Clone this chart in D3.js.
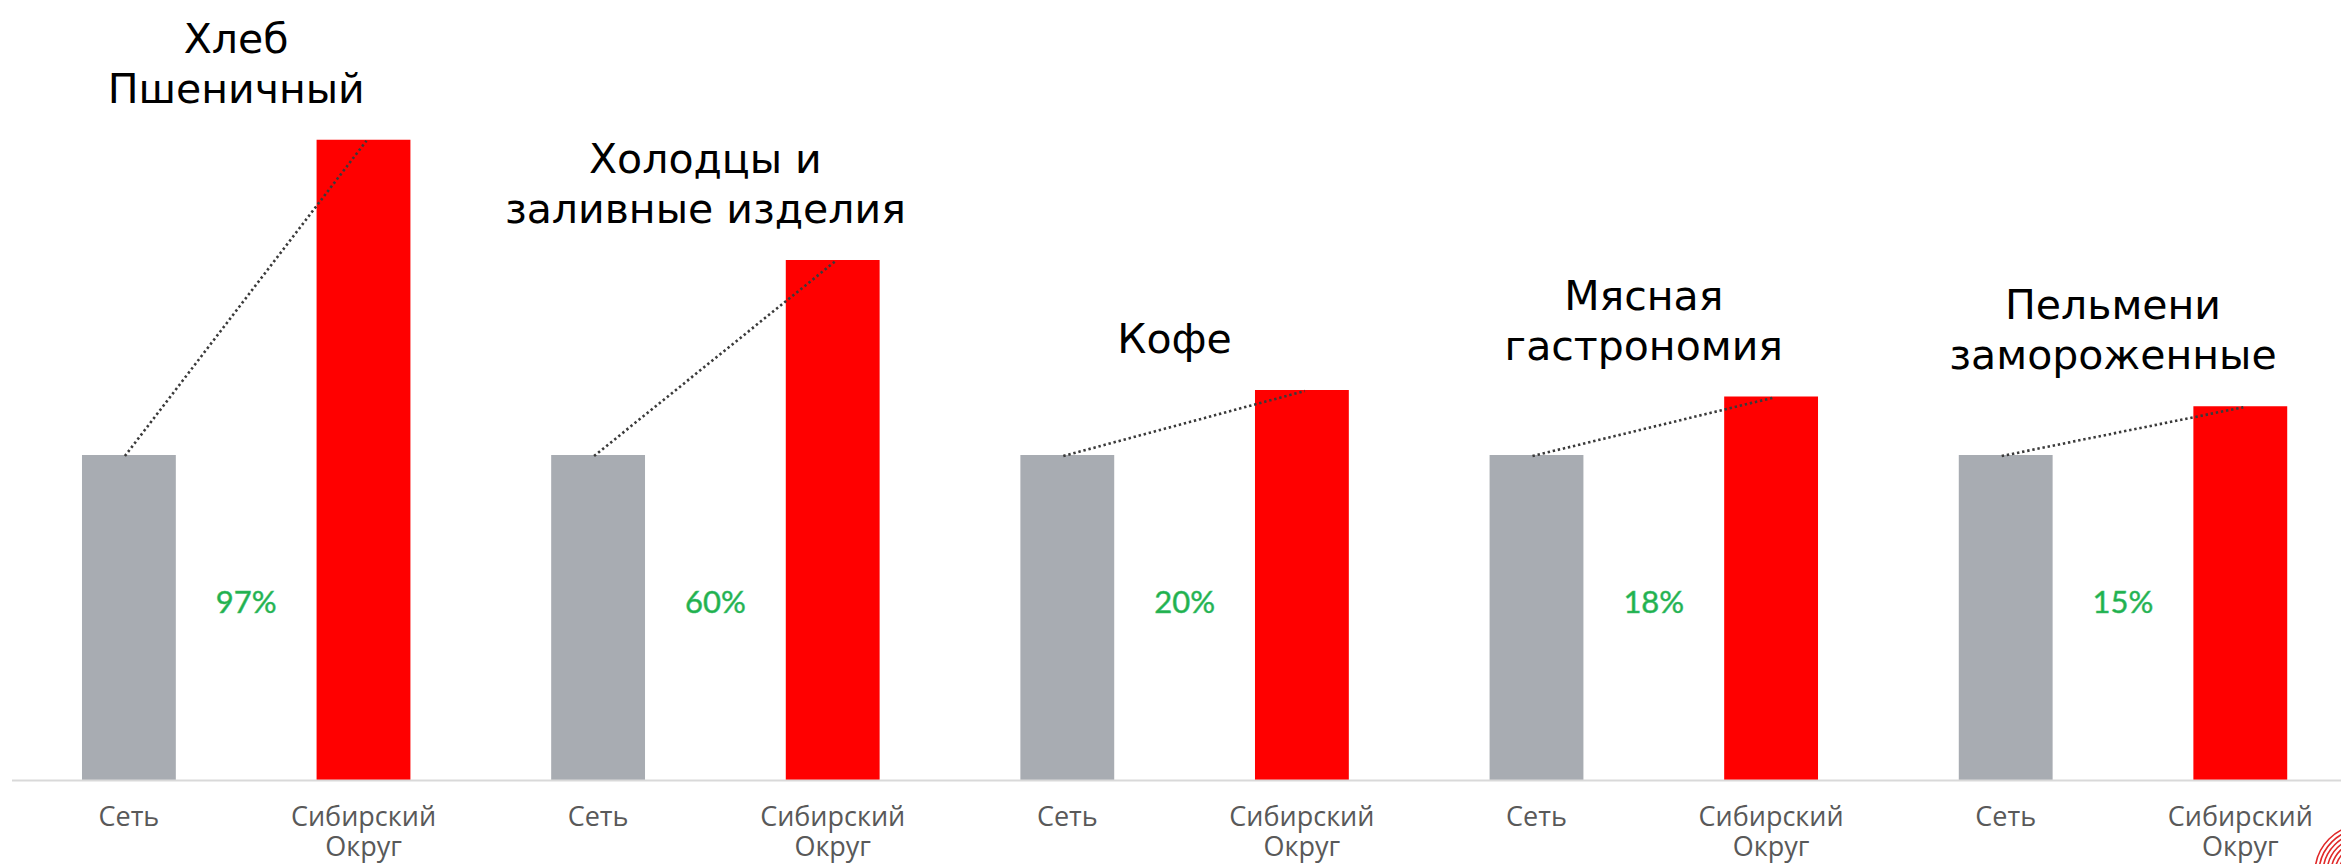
<!DOCTYPE html>
<html>
<head>
<meta charset="utf-8">
<script src="https://cdn.jsdelivr.net/npm/d3@7"></script>
<style>
  body { margin: 0; background: #fff; }
  svg { display: block; }
</style>
</head>
<body>
<div id="chart"></div>
<script>

// chart data
const categories = [
    ['Хлеб', 'Пшеничный'],
    ['Холодцы и', 'заливные изделия'],
    ['Кофе'],
    ['Мясная', 'гастрономия'],
    ['Пельмени', 'замороженные']
];
const seriesNames = ['Сеть', 'Сибирский Округ'];
const networkValues = [100, 100, 100, 100, 100];
const siberiaValues = [197, 160, 120, 118, 115];
const growthLabels = ['97%', '60%', '20%', '18%', '15%'];
const tickLabels = [['Сеть'], ['Сибирский', 'Округ']];

const width = 2341, height = 864;
const baseY = 780;

const svg = d3.select('#chart')
    .append('svg')
    .attr('width', width)
    .attr('height', height);

const x0 = d3.scaleBand()
    .domain(d3.range(categories.length))
    .range([11.6, 2357.6])
    .padding(0);

const x1 = d3.scaleBand()
    .domain([0, 1])
    .range([0, x0.bandwidth()])
    .paddingInner(0.6)
    .paddingOuter(0.3);

const y = d3.scaleLinear()
    .domain([0, 200])
    .range([baseY, 130]);

const colors = ['#a8acb2', '#ff0000'];

const rows = categories.map((c, i) => ({
    i: i,
    title: c,
    vals: [networkValues[i], siberiaValues[i]],
    growth: growthLabels[i]
}));

const groups = svg.selectAll('g.grp')
    .data(rows)
    .enter()
    .append('g')
    .attr('class', 'grp')
    .attr('transform', d => `translate(${x0(d.i)},0)`);

// bars
groups.selectAll('rect')
    .data(d => d.vals.map((v, k) => ({ k: k, v: v })))
    .enter()
    .append('rect')
    .attr('x', d => x1(d.k))
    .attr('y', d => y(d.v))
    .attr('width', x1.bandwidth())
    .attr('height', d => baseY - y(d.v))
    .attr('fill', d => colors[d.k]);

// dotted connectors
groups.append('line')
    .attr('x1', x1(0) + x1.bandwidth() / 2 - 4)
    .attr('y1', d => y(d.vals[0]) + 1)
    .attr('x2', x1(1) + x1.bandwidth() / 2 + 3)
    .attr('y2', d => y(d.vals[1]) + 1)
    .attr('stroke', '#3a3a3a')
    .attr('stroke-width', 2.6)
    .attr('stroke-dasharray', '2.4,2.8');

// growth labels
groups.append('text')
    .attr('x', (x1(0) + x1(1) + x1.bandwidth()) / 2)
    .attr('y', 613)
    .attr('text-anchor', 'middle')
    .attr('font-family', 'Lato, "Open Sans", sans-serif')
    .attr('font-size', 31)
    .attr('fill', '#22b04c')
    .attr('stroke', '#3cc070')
    .attr('stroke-width', 0.5)
    .text(d => d.growth);

// category titles
groups.append('text')
    .attr('text-anchor', 'middle')
    .attr('font-family', '"DejaVu Sans", Verdana, sans-serif')
    .attr('font-size', 41)
    .attr('fill', '#000')
    .each(function (d) {
        const t = d3.select(this);
        const cx = (x1(0) + x1(1) + x1.bandwidth()) / 2 - 10;
        const lastBase = y(d.vals[1]) - 37;
        const n = d.title.length;
        d.title.forEach((line, j) => {
            t.append('tspan')
                .attr('x', cx)
                .attr('y', lastBase - (n - 1 - j) * 50)
                .text(line);
        });
    });

// baseline
svg.append('line')
    .attr('x1', 12)
    .attr('x2', width)
    .attr('y1', baseY + 0.5)
    .attr('y2', baseY + 0.5)
    .attr('stroke', '#d9d9d9')
    .attr('stroke-width', 2);

// tick labels
groups.each(function () {
    const g = d3.select(this);
    tickLabels.forEach((lines, k) => {
        const t = g.append('text')
            .attr('text-anchor', 'middle')
            .attr('font-family', '"Open Sans", "Noto Sans", sans-serif')
            .attr('font-size', 27)
            .attr('fill', '#595959');
        lines.forEach((line, j) => {
            t.append('tspan')
                .attr('x', x1(k) + x1.bandwidth() / 2)
                .attr('y', 826 + j * 30)
                .text(line);
        });
    });
});

// corner logo rings (partly off-canvas)
const logo = svg.append('g');
d3.range(20, 52, 4).forEach(r => {
    logo.append('circle')
        .attr('cx', 2363)
        .attr('cy', 873)
        .attr('r', r)
        .attr('fill', 'none')
        .attr('stroke', '#e02828')
        .attr('stroke-width', 1.6);
});

</script>
</body>
</html>
